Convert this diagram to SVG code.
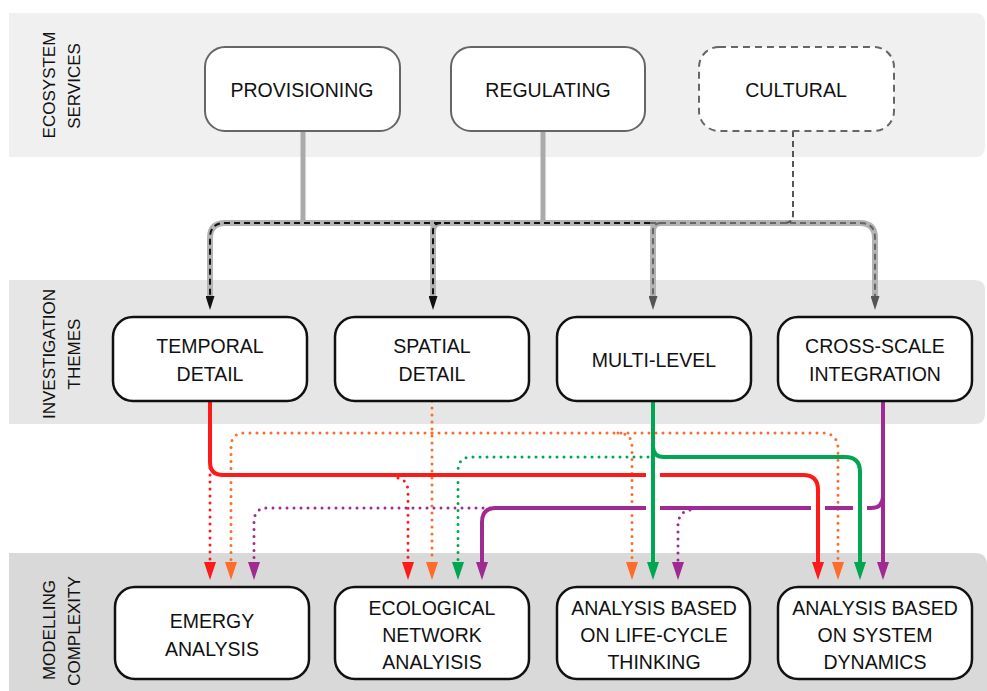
<svg xmlns="http://www.w3.org/2000/svg" width="987" height="691" viewBox="0 0 987 691">
<style>
.lbl{font-family:"Liberation Sans",Arial,sans-serif;font-size:17px;fill:#111;text-anchor:middle}
.txt{font-family:"Liberation Sans",Arial,sans-serif;font-size:19.5px;fill:#111;text-anchor:middle}
.top{fill:#fff;stroke:#666;stroke-width:2}
.box{fill:#fff;stroke:#111;stroke-width:2.5}
.dot{fill:none;stroke-width:3;stroke-linecap:round;stroke-dasharray:0 7}
.sol{fill:none;stroke-width:4;stroke-linecap:butt}
.red{stroke:#ff1a1a}
.org{stroke:#ff6b2b}
.grn{stroke:#00a651}
.pur{stroke:#9e2a92}
</style>
<defs>
<marker id="aR" markerUnits="userSpaceOnUse" markerWidth="18" markerHeight="12" refX="0" refY="6" orient="auto"><path d="M0,0 L18,6 L0,12 z" fill="#ff1a1a"/></marker>
<marker id="aO" markerUnits="userSpaceOnUse" markerWidth="18" markerHeight="12" refX="0" refY="6" orient="auto"><path d="M0,0 L18,6 L0,12 z" fill="#ff6b2b"/></marker>
<marker id="aG" markerUnits="userSpaceOnUse" markerWidth="18" markerHeight="12" refX="0" refY="6" orient="auto"><path d="M0,0 L18,6 L0,12 z" fill="#00a651"/></marker>
<marker id="aP" markerUnits="userSpaceOnUse" markerWidth="18" markerHeight="12" refX="0" refY="6" orient="auto"><path d="M0,0 L18,6 L0,12 z" fill="#9e2a92"/></marker>
<marker id="aK" markerUnits="userSpaceOnUse" markerWidth="14" markerHeight="9" refX="0" refY="4.5" orient="auto"><path d="M0,0 L14,4.5 L0,9 z" fill="#111"/></marker>
<marker id="aY" markerUnits="userSpaceOnUse" markerWidth="14" markerHeight="9" refX="0" refY="4.5" orient="auto"><path d="M0,0 L14,4.5 L0,9 z" fill="#555"/></marker>
</defs>
<rect width="987" height="691" fill="#fff"/>
<g id="bands">
<path d="M9,13 H975 Q985,13 985,23 V147 Q985,157 975,157 H9 Z" fill="#f0f0f0"/>
<path d="M9,280 H975 Q985,280 985,290 V414 Q985,424 975,424 H9 Z" fill="#e6e6e6"/>
<path d="M9,553 H975 Q987,553 987,565 V691 H9 Z" fill="#d9d9d9"/>
<text class="lbl" transform="translate(55,85) rotate(-90)">ECOSYSTEM</text>
<text class="lbl" transform="translate(80,86) rotate(-90)">SERVICES</text>
<text class="lbl" transform="translate(55,354) rotate(-90)">INVESTIGATION</text>
<text class="lbl" transform="translate(80,354) rotate(-90)">THEMES</text>
<text class="lbl" transform="translate(55,630) rotate(-90)">MODELLING</text>
<text class="lbl" transform="translate(80,631) rotate(-90)">COMPLEXITY</text>
</g>
<g id="connectors">
<path d="M303,131 V222" stroke="#aaa" stroke-width="5" fill="none"/>
<path d="M294,225 Q303,223 303,212 Q303,223 312,225 Z" fill="#aaa"/>
<path d="M543,131 V222" stroke="#aaa" stroke-width="5" fill="none"/>
<path d="M534,225 Q543,223 543,212 Q543,223 552,225 Z" fill="#aaa"/>
<path d="M210,296 V238 Q210,223 225,223 H860 Q875,223 875,238 V296" stroke="#b3b3b3" stroke-width="6" fill="none"/>
<path d="M433,296 V231 Q433,223 441,223" stroke="#b3b3b3" stroke-width="6" fill="none"/>
<path d="M653,296 V231 Q653,223 661,223" stroke="#b3b3b3" stroke-width="6" fill="none"/>
<path d="M650,223 H225 Q210,223 210,238 V296" stroke="#111" stroke-width="2" stroke-dasharray="6 4" fill="none" marker-end="url(#aK)"/>
<path d="M650,223 H860 Q875,223 875,238 V296" stroke="#666" stroke-width="2" stroke-dasharray="6 4" fill="none" marker-end="url(#aY)"/>
<path d="M441,223 Q433,223 433,231 V296" stroke="#111" stroke-width="2" stroke-dasharray="6 4" fill="none" marker-end="url(#aK)"/>
<path d="M661,223 Q653,223 653,231 V296" stroke="#666" stroke-width="2" stroke-dasharray="6 4" fill="none" marker-end="url(#aY)"/>
<path d="M793,131 V215 Q793,222 786,223" stroke="#555" stroke-width="2" stroke-dasharray="6 4" fill="none"/>
<path class="dot red" d="M210,468 V562" marker-end="url(#aR)"/>
<path class="dot red" d="M398,478 Q408,480 408,492 V562" marker-end="url(#aR)"/>
<path class="dot org" d="M432,401 V562" marker-end="url(#aO)"/>
<path class="dot org" d="M432,433 H245 Q231,433 231,447 V562" marker-end="url(#aO)"/>
<path class="dot org" d="M432,433 H822 Q838,433 838,449 V562" marker-end="url(#aO)"/>
<path class="dot org" d="M618,433 Q632,433 632,447 V562" marker-end="url(#aO)"/>
<path class="dot grn" d="M648,457 H472 Q458,457 458,471 V562" marker-end="url(#aG)"/>
<path class="dot pur" d="M490,508 H268 Q254,508 254,522 V562" marker-end="url(#aP)"/>
<path class="dot pur" d="M690,510 Q678,512 678,526 V562" marker-end="url(#aP)"/>
<path class="sol red" d="M210,401 V462 Q210,475 223,475 H646 M660,475 H803 Q818,475 818,490 V562" marker-end="url(#aR)"/>
<path class="sol grn" d="M653,401 V562" marker-end="url(#aG)"/>
<path class="sol grn" d="M653,446 Q653,457 664,457 H845 Q860,457 860,472 V562" marker-end="url(#aG)"/>
<path class="sol pur" d="M883,401 V562" marker-end="url(#aP)"/>
<path class="sol pur" d="M883,496 Q883,508 871,508 H867 M853,508 H825 M811,508 H660 M646,508 H496 Q482,508 482,522 V562" marker-end="url(#aP)"/>
</g>
<g id="provisioning"><rect class="top" x="205" y="47" width="195" height="84" rx="20"/><text class="txt" x="302" y="97">PROVISIONING</text></g>
<g id="regulating"><rect class="top" x="451" y="47" width="194" height="84" rx="20"/><text class="txt" x="548" y="97">REGULATING</text></g>
<g id="cultural"><rect class="top" x="699" y="47" width="195" height="84" rx="20" stroke-dasharray="7 5"/><text class="txt" x="796" y="97">CULTURAL</text></g>
<g id="temporal"><rect class="box" x="113" y="317" width="194" height="84" rx="20"/><text class="txt" x="210" y="353">TEMPORAL</text><text class="txt" x="210" y="381">DETAIL</text></g>
<g id="spatial"><rect class="box" x="335" y="317" width="194" height="84" rx="20"/><text class="txt" x="432" y="353">SPATIAL</text><text class="txt" x="432" y="381">DETAIL</text></g>
<g id="multilevel"><rect class="box" x="557" y="317" width="194" height="84" rx="20"/><text class="txt" x="654" y="367">MULTI-LEVEL</text></g>
<g id="crossscale"><rect class="box" x="778" y="317" width="194" height="84" rx="20"/><text class="txt" x="875" y="353">CROSS-SCALE</text><text class="txt" x="875" y="381">INTEGRATION</text></g>
<g id="emergy"><rect class="box" x="115" y="587" width="194" height="92" rx="20"/><text class="txt" x="212" y="628">EMERGY</text><text class="txt" x="212" y="656">ANALYSIS</text></g>
<g id="ena"><rect class="box" x="335" y="587" width="194" height="92" rx="20"/><text class="txt" x="432" y="615">ECOLOGICAL</text><text class="txt" x="432" y="642">NETWORK</text><text class="txt" x="432" y="669">ANALYISIS</text></g>
<g id="lct"><rect class="box" x="557" y="587" width="193" height="92" rx="20"/><text class="txt" x="654" y="615">ANALYSIS BASED</text><text class="txt" x="654" y="642">ON LIFE-CYCLE</text><text class="txt" x="654" y="669">THINKING</text></g>
<g id="sd"><rect class="box" x="778" y="587" width="194" height="92" rx="20"/><text class="txt" x="875" y="615">ANALYSIS BASED</text><text class="txt" x="875" y="642">ON SYSTEM</text><text class="txt" x="875" y="669">DYNAMICS</text></g>
</svg>
